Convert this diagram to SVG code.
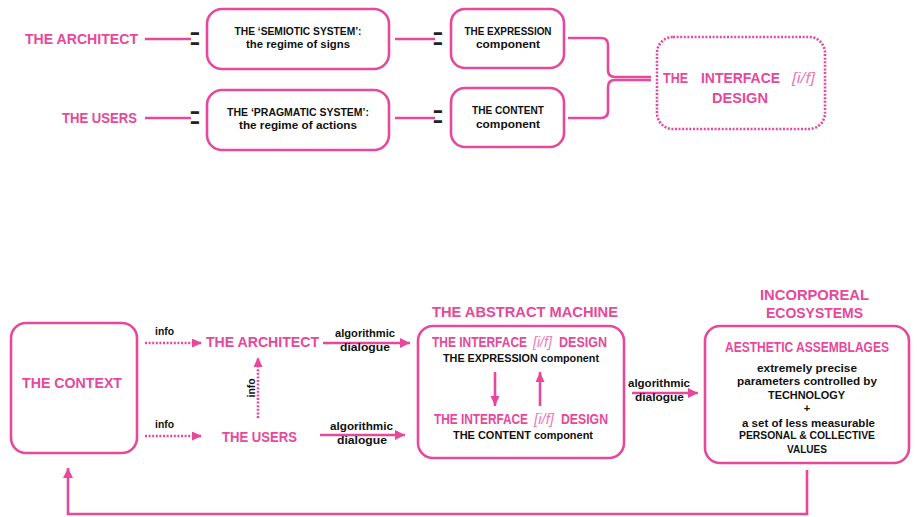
<svg xmlns="http://www.w3.org/2000/svg" width="917" height="517" viewBox="0 0 917 517">
<defs>
<style>
.box{fill:#fff;stroke:#E6489B;stroke-width:2.6}
.dbox{fill:#fff;stroke:#E6489B;stroke-width:2.6;stroke-dasharray:2 1.6}
.ln{fill:none;stroke:#E6489B;stroke-width:2.6}
.dl{fill:none;stroke:#E6489B;stroke-width:2.6;stroke-dasharray:2 1.6}
.pk{font-family:"Liberation Sans",Arial,sans-serif;font-weight:bold;fill:#E6489B;font-size:15px}
.bk{font-family:"Liberation Sans",Arial,sans-serif;font-weight:bold;fill:#111;font-size:11px}
.it{font-family:"Liberation Sans",Arial,sans-serif;font-style:italic;fill:#EC7DB8;font-size:15px}
.eq{font-family:"Liberation Sans",Arial,sans-serif;font-weight:normal;fill:#222;font-size:24px}
</style>
<marker id="ah" markerUnits="userSpaceOnUse" markerWidth="11" markerHeight="11" refX="10" refY="5" orient="auto">
<path d="M0,0 L10,5 L0,10 z" fill="#E6489B"/>
</marker>
<marker id="ahs" markerUnits="userSpaceOnUse" markerWidth="11" markerHeight="10" refX="10" refY="4.5" orient="auto">
<path d="M0,0 L10,4.5 L0,9 z" fill="#E6489B"/>
</marker>
</defs>

<!-- TOP SECTION -->
<g id="top-architect"><text class="pk" x="138" y="44" text-anchor="end" textLength="113" lengthAdjust="spacingAndGlyphs">THE ARCHITECT</text></g>
<g id="top-users"><text class="pk" x="137" y="123" text-anchor="end" textLength="75" lengthAdjust="spacingAndGlyphs">THE USERS</text></g>

<g id="semiotic">
<rect class="box" x="207" y="9" width="182" height="60" rx="15"/>
<text class="bk" x="298" y="35" text-anchor="middle" textLength="127" lengthAdjust="spacingAndGlyphs">THE ‘SEMIOTIC SYSTEM’:</text>
<text class="bk" x="298" y="48" text-anchor="middle" textLength="104" lengthAdjust="spacingAndGlyphs">the regime of signs</text>
</g>
<g id="pragmatic">
<rect class="box" x="207" y="90" width="182" height="60" rx="15"/>
<text class="bk" x="298" y="116" text-anchor="middle" textLength="142" lengthAdjust="spacingAndGlyphs">THE ‘PRAGMATIC SYSTEM’:</text>
<text class="bk" x="298" y="129" text-anchor="middle" textLength="118" lengthAdjust="spacingAndGlyphs">the regime of actions</text>
</g>
<g id="expression">
<rect class="box" x="451" y="9" width="113" height="59" rx="14"/>
<text class="bk" x="508" y="35" text-anchor="middle" textLength="87" lengthAdjust="spacingAndGlyphs">THE EXPRESSION</text>
<text class="bk" x="508" y="48" text-anchor="middle" textLength="64" lengthAdjust="spacingAndGlyphs">component</text>
</g>
<g id="content">
<rect class="box" x="451" y="88" width="113" height="59" rx="14"/>
<text class="bk" x="508" y="114" text-anchor="middle" textLength="72" lengthAdjust="spacingAndGlyphs">THE CONTENT</text>
<text class="bk" x="508" y="128" text-anchor="middle" textLength="64" lengthAdjust="spacingAndGlyphs">component</text>
</g>
<g id="interface-design">
<rect class="dbox" x="657" y="37" width="168" height="92" rx="16"/>
<text class="pk" x="663" y="83" textLength="25" lengthAdjust="spacingAndGlyphs">THE</text>
<text class="pk" x="701" y="83" textLength="79" lengthAdjust="spacingAndGlyphs">INTERFACE</text>
<text class="it" x="792" y="83" textLength="23" lengthAdjust="spacingAndGlyphs">[i/f]</text>
<text class="pk" x="740" y="103" text-anchor="middle" textLength="56" lengthAdjust="spacingAndGlyphs">DESIGN</text>
</g>

<g id="top-connectors">
<path class="ln" d="M145,39 H191"/>
<path class="ln" d="M145,118 H191"/>
<path class="ln" d="M395,39 H435"/>
<path class="ln" d="M395,118 H435"/>
<path class="ln" d="M568,38 H601 Q608,38 608,45 V70 Q608,77 615,77 H651"/>
<path class="ln" d="M568,118 H601 Q608,118 608,111 V87 Q608,80 615,80 H651"/>
<text class="eq" transform="translate(195,51.5) scale(0.7,1.6)" text-anchor="middle">=</text>
<text class="eq" transform="translate(438,51.5) scale(0.7,1.6)" text-anchor="middle">=</text>
<text class="eq" transform="translate(195,130.5) scale(0.7,1.6)" text-anchor="middle">=</text>
<text class="eq" transform="translate(438,129.5) scale(0.7,1.6)" text-anchor="middle">=</text>
</g>

<!-- BOTTOM SECTION -->
<g id="context">
<rect class="box" x="11" y="323" width="126" height="130" rx="15"/>
<text class="pk" x="72" y="388" text-anchor="middle" textLength="100" lengthAdjust="spacingAndGlyphs">THE CONTEXT</text>
</g>
<g id="architect"><text class="pk" x="262.5" y="347" text-anchor="middle" textLength="113" lengthAdjust="spacingAndGlyphs">THE ARCHITECT</text></g>
<g id="users"><text class="pk" x="259.5" y="442" text-anchor="middle" textLength="75" lengthAdjust="spacingAndGlyphs">THE USERS</text></g>

<g id="abstract-machine">
<text class="pk" x="525" y="317" text-anchor="middle" textLength="186" lengthAdjust="spacingAndGlyphs">THE ABSTRACT MACHINE</text>
<rect class="box" x="418" y="326" width="206" height="132" rx="15"/>
<text class="pk" x="432" y="347" textLength="95" lengthAdjust="spacingAndGlyphs">THE INTERFACE</text>
<text class="it" x="533" y="347" textLength="19" lengthAdjust="spacingAndGlyphs">[i/f]</text>
<text class="pk" x="559" y="347" textLength="48" lengthAdjust="spacingAndGlyphs">DESIGN</text>
<text class="bk" x="521" y="362" text-anchor="middle" textLength="156" lengthAdjust="spacingAndGlyphs">THE EXPRESSION component</text>
<text class="pk" x="434" y="424" textLength="94" lengthAdjust="spacingAndGlyphs">THE INTERFACE</text>
<text class="it" x="534" y="424" textLength="20" lengthAdjust="spacingAndGlyphs">[i/f]</text>
<text class="pk" x="561" y="424" textLength="47" lengthAdjust="spacingAndGlyphs">DESIGN</text>
<text class="bk" x="523" y="439" text-anchor="middle" textLength="140" lengthAdjust="spacingAndGlyphs">THE CONTENT component</text>
</g>

<g id="incorporeal">
<text class="pk" x="814.5" y="300" text-anchor="middle" textLength="109" lengthAdjust="spacingAndGlyphs">INCORPOREAL</text>
<text class="pk" x="814.5" y="318" text-anchor="middle" textLength="97" lengthAdjust="spacingAndGlyphs">ECOSYSTEMS</text>
<rect class="box" x="705" y="326" width="204" height="137" rx="15"/>
<text class="pk" x="807" y="352" text-anchor="middle" style="font-size:14px" textLength="164" lengthAdjust="spacingAndGlyphs">AESTHETIC ASSEMBLAGES</text>
<text class="bk" x="807" y="372" text-anchor="middle" textLength="100" lengthAdjust="spacingAndGlyphs">extremely precise</text>
<text class="bk" x="807" y="385" text-anchor="middle" textLength="140" lengthAdjust="spacingAndGlyphs">parameters controlled by</text>
<text class="bk" x="806.5" y="399" text-anchor="middle" textLength="77" lengthAdjust="spacingAndGlyphs">TECHNOLOGY</text>
<text class="bk" x="807" y="412" text-anchor="middle">+</text>
<text class="bk" x="808.5" y="427" text-anchor="middle" textLength="133" lengthAdjust="spacingAndGlyphs">a set of less measurable</text>
<text class="bk" x="807" y="439" text-anchor="middle" textLength="136" lengthAdjust="spacingAndGlyphs">PERSONAL &amp; COLLECTIVE</text>
<text class="bk" x="807" y="453" text-anchor="middle" textLength="40" lengthAdjust="spacingAndGlyphs">VALUES</text>
</g>

<g id="bottom-connectors">
<path class="dl" d="M145,343 H202" marker-end="url(#ahs)"/>
<path class="dl" d="M145,436 H202" marker-end="url(#ahs)"/>
<path class="dl" d="M258,418 V357" marker-end="url(#ahs)"/>
<path class="ln" d="M323,343 H410" marker-end="url(#ah)"/>
<path class="ln" d="M320,435 H405" marker-end="url(#ah)"/>
<path class="ln" d="M632,393 H698" marker-end="url(#ah)"/>
<path class="ln" d="M495,372 V406" marker-end="url(#ahs)"/>
<path class="ln" d="M540,406 V372" marker-end="url(#ahs)"/>
<path class="ln" d="M807,470 V514 H68 V468" marker-end="url(#ah)"/>
<text class="bk" x="164.5" y="335" text-anchor="middle" textLength="19" lengthAdjust="spacingAndGlyphs">info</text>
<text class="bk" x="164.5" y="428" text-anchor="middle" textLength="19" lengthAdjust="spacingAndGlyphs">info</text>
<text class="bk" transform="translate(254.5,388) rotate(-90)" x="0" y="0" text-anchor="middle" textLength="19" lengthAdjust="spacingAndGlyphs">info</text>
<text class="bk" x="365" y="337" text-anchor="middle" textLength="60" lengthAdjust="spacingAndGlyphs">algorithmic</text>
<text class="bk" x="365" y="351" text-anchor="middle" textLength="50" lengthAdjust="spacingAndGlyphs">dialogue</text>
<text class="bk" x="361.5" y="430" text-anchor="middle" textLength="63" lengthAdjust="spacingAndGlyphs">algorithmic</text>
<text class="bk" x="362" y="444" text-anchor="middle" textLength="50" lengthAdjust="spacingAndGlyphs">dialogue</text>
<text class="bk" x="659" y="387" text-anchor="middle" textLength="62" lengthAdjust="spacingAndGlyphs">algorithmic</text>
<text class="bk" x="659.5" y="401" text-anchor="middle" textLength="49" lengthAdjust="spacingAndGlyphs">dialogue</text>
</g>
</svg>
